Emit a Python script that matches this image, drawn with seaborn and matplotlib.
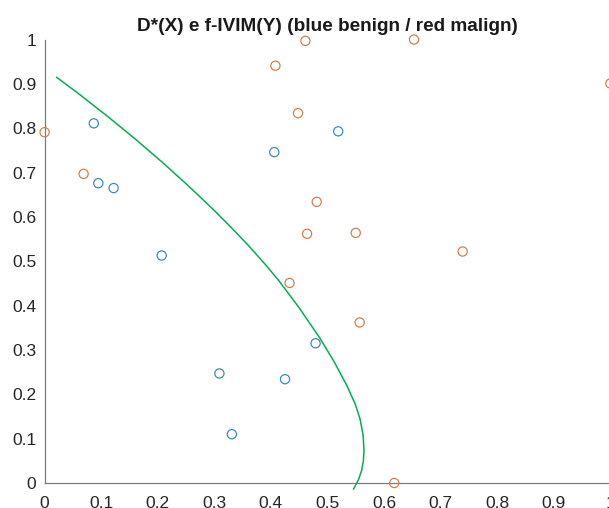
import matplotlib
matplotlib.use("Agg")
import matplotlib.pyplot as plt
import seaborn as sns
import numpy as np
import pandas as pd
from matplotlib.ticker import FormatStrFormatter

# benign (blue) points
benign_x = [0.087, 0.519, 0.406, 0.095, 0.122, 0.207, 0.479, 0.309, 0.425, 0.331]
benign_y = [0.811, 0.793, 0.746, 0.676, 0.665, 0.513, 0.315, 0.247, 0.234, 0.110]

# malign (red) points
malign_x = [0.461, 0.653, 0.408, 1.000, 0.448, 0.000, 0.069, 0.481, 0.464, 0.550, 0.739, 0.433, 0.557, 0.618]
malign_y = [0.997, 1.000, 0.941, 0.901, 0.834, 0.791, 0.697, 0.634, 0.562, 0.564, 0.522, 0.451, 0.362, 0.000]

# decision boundary
boundary_x = [0.021, 0.060, 0.110, 0.160, 0.210, 0.255, 0.298, 0.330, 0.360, 0.390, 0.413,
              0.450, 0.487, 0.512, 0.535, 0.549, 0.5575, 0.563, 0.5646, 0.5635, 0.5605, 0.555, 0.546]
boundary_y = [0.915, 0.878, 0.828, 0.776, 0.721, 0.669, 0.617, 0.576, 0.536, 0.493, 0.458,
              0.395, 0.326, 0.273, 0.218, 0.178, 0.145, 0.108, 0.074, 0.050, 0.029, 0.008, -0.014]

ticks = [0, 0.1, 0.2, 0.3, 0.4, 0.5, 0.6, 0.7, 0.8, 0.9, 1]

df = pd.DataFrame({
    "x": benign_x + malign_x,
    "y": benign_y + malign_y,
    "cls": ["benign"] * len(benign_x) + ["malign"] * len(malign_x),
})

sns.set_style("white")
plt.rcParams["font.family"] = ["Liberation Sans", "DejaVu Sans"]

fig = plt.figure(figsize=(6.09, 5.08), dpi=100)
ax = fig.add_axes([0.0732, 0.0492, 0.929, 0.873])

sns.scatterplot(data=df, x="x", y="y", hue="cls",
                palette={"benign": "#2f86b8", "malign": "#d27a45"},
                s=44, legend=False, ax=ax, clip_on=False, zorder=3)
coll = ax.collections[0]
coll.set_edgecolors(coll.get_facecolors())
coll.set_facecolors("none")
coll.set_linewidth(0.85)

sns.lineplot(x=boundary_x, y=boundary_y, sort=False, estimator=None,
             color="#00b050", lw=1.1, ax=ax, clip_on=False)

ax.set_xlim(0, 1)
ax.set_ylim(0, 1)
ax.set_xticks(ticks)
ax.set_yticks(ticks)
ax.xaxis.set_major_formatter(FormatStrFormatter("%g"))
ax.yaxis.set_major_formatter(FormatStrFormatter("%g"))
ax.set_xlabel("")
ax.set_ylabel("")

for side in ["top", "right"]:
    ax.spines[side].set_visible(False)
for side in ["left", "bottom"]:
    ax.spines[side].set_color("#7a7a7a")
    ax.spines[side].set_linewidth(0.9)

ax.tick_params(direction="in", length=3.5, width=0.8, color="#555555",
               labelsize=12.5, labelcolor="#262626")
ax.tick_params(axis="x", pad=9)
ax.tick_params(axis="y", pad=6)

ax.set_title("D*(X) e f-IVIM(Y) (blue benign / red malign)",
             fontsize=13.7, fontweight="bold", color="#1a1a1a", pad=6)

fig.savefig("out.png", dpi=100)
